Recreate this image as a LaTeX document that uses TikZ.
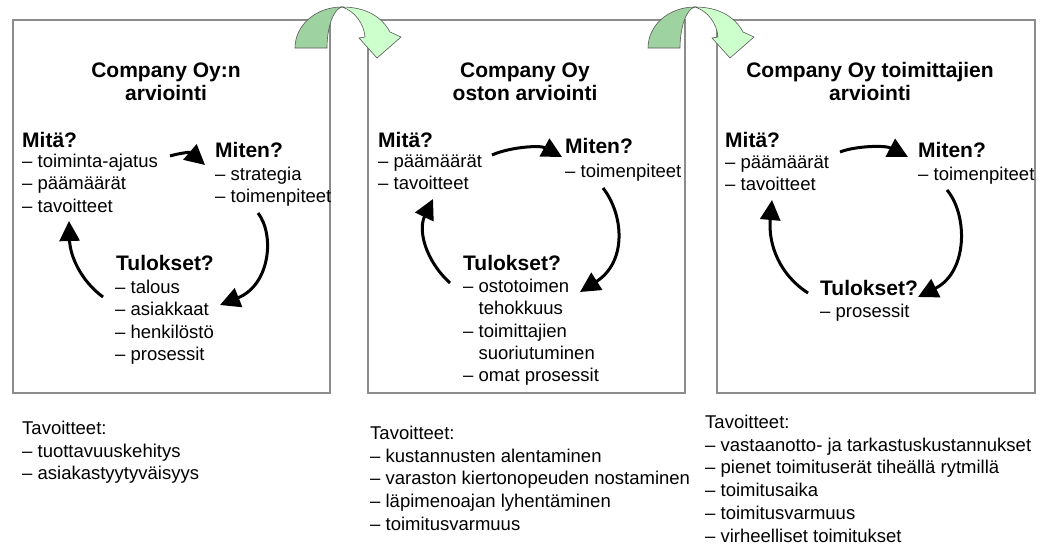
\documentclass[tikz,border=0pt]{standalone}
\usepackage{fontspec}
\setmainfont{Liberation Sans}
\usetikzlibrary{arrows.meta}

\definecolor{framegray}{RGB}{140,140,140}
\definecolor{backgreen}{RGB}{158,210,160}
\definecolor{frontgreen}{RGB}{204,255,204}
\definecolor{edgegray}{RGB}{90,90,90}

% first-line struts so that list nodes can be placed by their top edge
\newcommand{\liststrut}{\rule{0pt}{14pt}}
\newcommand{\titlestrut}{\rule{0pt}{16pt}}

\tikzset{
  frame/.style={draw=framegray, line width=1.6pt},
  titletext/.style={font=\bfseries\fontsize{21}{23.5}\selectfont, align=center, inner sep=0pt, anchor=north},
  headtext/.style={font=\bfseries\fontsize{21}{24}\selectfont, inner sep=0pt, anchor=base west},
  listtext/.style={font=\fontsize{18.5}{22.4}\selectfont, align=left, inner sep=0pt, anchor=north west},
  goaltext/.style={font=\fontsize{18.5}{22.8}\selectfont, align=left, inner sep=0pt, anchor=north west},
  loopArrow/.style={line width=3pt, -{Triangle[length=20pt,width=20pt]}},
  backface/.style={fill=backgreen, draw=edgegray, line width=0.6pt},
  frontface/.style={fill=frontgreen, draw=edgegray, line width=0.6pt},
  bendarrow/.pic={
    % shaded rear half of the curved arrow
    \path[backface] (295,48) .. controls (295,25) and (316,7) .. (342,7)
      .. controls (333,9) and (327,28) .. (327,48) -- cycle;
    % front half with the arrow head
    \path[frontface] (342,7) .. controls (366,7) and (382,17) .. (390,32)
      -- (401,37) -- (377,58) -- (359,38) -- (365,37)
      .. controls (364,24) and (355,11) .. (342,7) -- cycle;
  }
}

\begin{document}
\begin{tikzpicture}[x=1pt, y=-1pt]
\useasboundingbox (0,0) rectangle (1046,547);

% the three assessment frames
\draw[frame] (13,20) rectangle (330,393);
\draw[frame] (368,20) rectangle (685,393);
\draw[frame] (717,20) rectangle (1035,393);

% ---------- frame 1 ----------
\node[titletext] (t1) at (166,61) {\titlestrut Company Oy:n\\arviointi};
\node[headtext] (what1) at (22,147) {Mitä?};
\node[listtext] (what1l) at (22,153) {\liststrut – toiminta-ajatus\\– päämäärät\\– tavoitteet};
\node[headtext] (how1) at (215,157) {Miten?};
\node[listtext] (how1l) at (215,166) {\liststrut – strategia\\– toimenpiteet};
\node[headtext] (res1) at (116,270) {Tulokset?};
\node[listtext] (res1l) at (115,279) {\liststrut – talous\\– asiakkaat\\– henkilöstö\\– prosessit};

\coordinate (a1s) at (170,156);  \coordinate (a1e) at (205,165);
\coordinate (b1s) at (258,213);  \coordinate (b1e) at (220,305);
\coordinate (c1s) at (103,297);  \coordinate (c1e) at (69,221);
\draw[loopArrow] (a1s) .. controls (180,153) and (190,152) .. (a1e);
\draw[loopArrow] (b1s) .. controls (275,235) and (270,285) .. (b1e);
\draw[loopArrow] (c1s) .. controls (80,280) and (70,255) .. (c1e);

% ---------- frame 2 ----------
\node[titletext] (t2) at (525,61) {\titlestrut Company Oy\\oston arviointi};
\node[headtext] (what2) at (378,147) {Mitä?};
\node[listtext] (what2l) at (378,153) {\liststrut – päämäärät\\– tavoitteet};
\node[headtext] (how2) at (565,153) {Miten?};
\node[listtext] (how2l) at (565,163) {\liststrut – toimenpiteet};
\node[headtext] (res2) at (463,270) {Tulokset?};
\node[listtext] (res2l) at (463,278) {\liststrut – ostotoimen\\\hphantom{– }tehokkuus\\– toimittajien\\\hphantom{– }suoriutuminen\\– omat prosessit};

\coordinate (a2s) at (492,155);  \coordinate (a2e) at (562,157);
\coordinate (b2s) at (603,188);  \coordinate (b2e) at (580,292);
\coordinate (c2s) at (450,283);  \coordinate (c2e) at (433,199);
\draw[loopArrow] (a2s) .. controls (510,147) and (540,145) .. (a2e);
\draw[loopArrow] (b2s) .. controls (624,215) and (627,262) .. (b2e);
\draw[loopArrow] (c2s) .. controls (425,260) and (418,230) .. (c2e);

% ---------- frame 3 ----------
\node[titletext] (t3) at (870,61) {\titlestrut Company Oy toimittajien\\arviointi};
\node[headtext] (what3) at (725,147) {Mitä?};
\node[listtext] (what3l) at (725,154) {\liststrut – päämäärät\\– tavoitteet};
\node[headtext] (how3) at (918,157) {Miten?};
\node[listtext] (how3l) at (918,166) {\liststrut – toimenpiteet};
\node[headtext] (res3) at (820,295) {Tulokset?};
\node[listtext] (res3l) at (820,303) {\liststrut – prosessit};

\coordinate (a3s) at (840,152);  \coordinate (a3e) at (908,157);
\coordinate (b3s) at (947,190);  \coordinate (b3e) at (918,297);
\coordinate (c3s) at (808,293);  \coordinate (c3e) at (772,200);
\draw[loopArrow] (a3s) .. controls (855,146) and (885,145) .. (a3e);
\draw[loopArrow] (b3s) .. controls (968,215) and (968,272) .. (b3e);
\draw[loopArrow] (c3s) .. controls (780,275) and (768,245) .. (c3e);

% curved hand-over arrows between the frames
\pic {bendarrow};
\pic at (353,0) {bendarrow};

% ---------- goals under the frames ----------
\node[goaltext] (g1) at (22,420) {\liststrut Tavoitteet:\\– tuottavuuskehitys\\– asiakastyytyväisyys};
\node[goaltext] (g2) at (370,425) {\liststrut Tavoitteet:\\– kustannusten alentaminen\\– varaston kiertonopeuden nostaminen\\– läpimenoajan lyhentäminen\\– toimitusvarmuus};
\node[goaltext] (g3) at (705,414) {\liststrut Tavoitteet:\\– vastaanotto- ja tarkastuskustannukset\\– pienet toimituserät tiheällä rytmillä\\– toimitusaika\\– toimitusvarmuus\\– virheelliset toimitukset};
\end{tikzpicture}
\end{document}
